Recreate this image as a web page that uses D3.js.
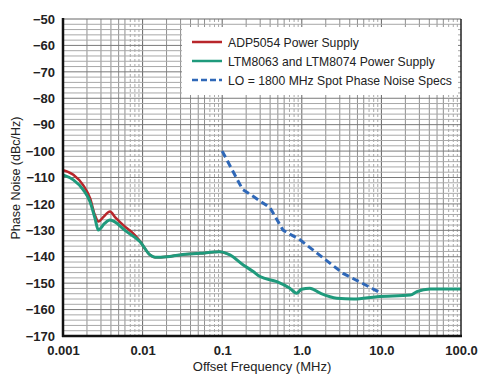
<!DOCTYPE html>
<html><head><meta charset="utf-8">
<script src="https://cdn.jsdelivr.net/npm/d3@7/dist/d3.min.js"></script>
<style>body{margin:0;background:#fff}text{font-family:"Liberation Sans",Arial,sans-serif}</style>
</head><body><svg id="c" width="492" height="380"></svg>
<script>
const xTicks = [0.001, 0.01, 0.1, 1, 10, 100];
const xTickLabels = ["0.001", "0.01", "0.1", "1.0", "10.0", "100.0"];
const yTicks = [-50, -60, -70, -80, -90, -100, -110, -120, -130, -140, -150, -160, -170];
const seriesNames = ["ADP5054 Power Supply", "LTM8063 and LTM8074 Power Supply", "LO = 1800 MHz Spot Phase Noise Specs"];
const adp5054 = [[0.001,-107.2],[0.00135,-109],[0.0018,-113],[0.0022,-118],[0.0025,-124],[0.0028,-126.7],[0.0032,-125],[0.0039,-122.9],[0.0045,-125],[0.006,-128.6],[0.0075,-131],[0.009,-133.6],[0.0124,-139.3],[0.0143,-140.2],[0.0201,-140],[0.0295,-139.3],[0.0525,-138.7],[0.093,-138.1],[0.113,-138.7]];
const ltm8063 = [[0.001,-109],[0.00135,-110.9],[0.0018,-114.7],[0.00218,-119.1],[0.00252,-125.4],[0.00278,-129.9],[0.0033,-127.5],[0.00389,-126.1],[0.0063,-130.5],[0.0093,-134.3],[0.0124,-139.3],[0.0143,-140.2],[0.0201,-140],[0.0295,-139.3],[0.0525,-138.7],[0.093,-138.1],[0.113,-138.7],[0.125,-139.3],[0.184,-143.1],[0.245,-145.6],[0.298,-147.5],[0.486,-149.4],[0.707,-151.9],[0.86,-153.8],[0.99,-152.3],[1.26,-151.9],[1.71,-153.8],[2.75,-155.7],[4.5,-156],[8.8,-155.1],[23.1,-154.5],[27.9,-153.2],[41,-152.2],[100,-152.2]];
const loSpec = [[0.1,-100],[0.18,-114.5],[0.25,-117.3],[0.4,-121.5],[0.58,-129.9],[0.95,-133.6],[3.3,-146.3],[10,-153.8]];

const svg = d3.select("#c");
const L = 63, R = 461, T = 19, B = 336;
const x = d3.scaleLog().domain([0.001, 100]).range([L, R]);
const y = d3.scaleLinear().domain([-50, -170]).range([T, B]);
const mant = d => Math.round(d / Math.pow(10, Math.floor(Math.log10(d) + 1e-9)));

// grid
const g = svg.append("g");
const minor = [];
for (let d = -3; d < 2; d++) for (let m = 2; m <= 9; m++) minor.push(m * Math.pow(10, d));
g.selectAll(".vm").data(minor).enter().append("line")
  .attr("x1", d => x(d)).attr("x2", d => x(d)).attr("y1", T).attr("y2", B)
  .attr("stroke", d => mant(d) >= 7 ? "#aaa" : "#8f8f8f")
  .attr("stroke-dasharray", d => mant(d) >= 7 ? "3,2" : null)
  .attr("stroke-width", 1);
g.selectAll(".vM").data(xTicks.slice(1, -1)).enter().append("line")
  .attr("x1", d => x(d)).attr("x2", d => x(d)).attr("y1", T).attr("y2", B)
  .attr("stroke", "#666").attr("stroke-width", 1);
const hgrid = d3.range(-52, -170, -2);
g.selectAll(".h").data(hgrid).enter().append("line")
  .attr("x1", L).attr("x2", R).attr("y1", d => y(d)).attr("y2", d => y(d))
  .attr("stroke", d => d % 10 === 0 ? "#7a7a7a" : "#a8a8a8").attr("stroke-width", 1);

// series
const line = d3.line().x(d => x(d[0])).y(d => y(d[1])).curve(d3.curveMonotoneX);
svg.append("path").datum(loSpec).attr("d", d3.line().x(d => x(d[0])).y(d => y(d[1])))
  .attr("fill", "none").attr("stroke", "#2f68b8").attr("stroke-width", 3).attr("stroke-dasharray", "7,4");
svg.append("path").datum(adp5054).attr("d", line)
  .attr("fill", "none").attr("stroke", "#b8262b").attr("stroke-width", 2.5);
svg.append("path").datum(ltm8063).attr("d", line)
  .attr("fill", "none").attr("stroke", "#1f9a7c").attr("stroke-width", 3);

// frame
svg.append("line").attr("x1", L).attr("x2", R).attr("y1", T).attr("y2", T).attr("stroke", "#666").attr("stroke-width", 1);
svg.append("line").attr("x1", R).attr("x2", R).attr("y1", T).attr("y2", B).attr("stroke", "#222").attr("stroke-width", 1.5);
svg.append("line").attr("x1", L).attr("x2", L).attr("y1", T - 1).attr("y2", B + 1).attr("stroke", "#111").attr("stroke-width", 2.5);
svg.append("line").attr("x1", L - 1).attr("x2", R + 1).attr("y1", B).attr("y2", B).attr("stroke", "#111").attr("stroke-width", 2.5);

// axes labels
const yAxis = d3.axisLeft(y).tickValues(yTicks).tickSize(0).tickPadding(8);
const ya = svg.append("g").attr("transform", `translate(${L},0)`).call(yAxis);
ya.select(".domain").remove();
ya.selectAll("text").attr("font-size", 13).attr("font-weight", "bold").attr("fill", "#222")
  .attr("font-family", "'Liberation Sans',sans-serif");
const xAxis = d3.axisBottom(x).tickValues(xTicks).tickFormat((d, i) => xTickLabels[i]).tickSize(0).tickPadding(10);
const xa = svg.append("g").attr("transform", `translate(0,${B})`).call(xAxis);
xa.select(".domain").remove();
xa.selectAll("text").attr("font-size", 13).attr("font-weight", "bold").attr("fill", "#222")
  .attr("font-family", "'Liberation Sans',sans-serif");

svg.append("text").attr("x", 262).attr("y", 371).attr("text-anchor", "middle")
  .attr("font-size", 13).attr("fill", "#222").text("Offset Frequency (MHz)");
svg.append("text").attr("transform", "translate(20,178) rotate(-90)").attr("text-anchor", "middle")
  .attr("font-size", 12.5).attr("fill", "#222").text("Phase Noise (dBc/Hz)");

// legend
const lg = svg.append("g");
lg.append("rect").attr("x", 182).attr("y", 27).attr("width", 276).attr("height", 68)
  .attr("fill", "#fff").attr("stroke", "none");
const colors = ["#b8262b", "#1f9a7c", "#2f68b8"];
const ly = [42, 61, 80];
seriesNames.forEach((n, i) => {
  lg.append("line").attr("x1", 192).attr("x2", 222).attr("y1", ly[i]).attr("y2", ly[i])
    .attr("stroke", colors[i]).attr("stroke-width", 2.5).attr("stroke-dasharray", i === 2 ? "6,3" : null);
  lg.append("text").attr("x", 228).attr("y", ly[i] + 4.5).attr("font-size", 12.2).attr("fill", "#222")
    .text(n);
});
</script></body></html>
